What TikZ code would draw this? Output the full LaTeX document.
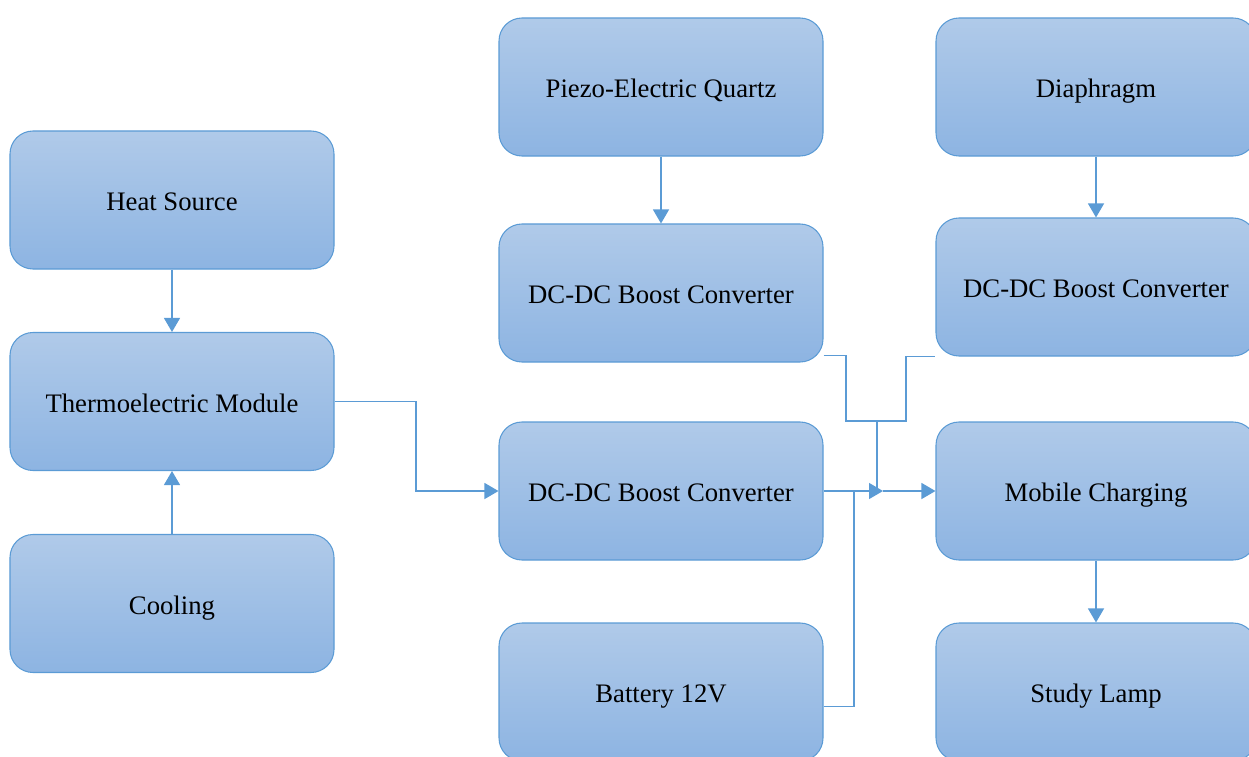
\documentclass[tikz,border=0pt]{standalone}
\usepackage{fontspec}
\setmainfont{Liberation Serif}
\usetikzlibrary{arrows.meta,calc}
\definecolor{boxTop}{HTML}{B0CAE9}
\definecolor{boxBottom}{HTML}{8DB4E2}
\definecolor{boxEdge}{HTML}{5B9BD5}

\begin{document}
\begin{tikzpicture}[x=0.2mm, y=-0.2mm,
  block/.style={rounded corners=4.6mm, draw=boxEdge, line width=0.6pt, top color=boxTop, bottom color=boxBottom, minimum width=64.8mm, minimum height=27.6mm, inner sep=0pt, align=center, text height=4.6mm, text depth=0.4mm, font=\fontsize{15.2}{18}\selectfont},
  narrow/.style={block, minimum width=64mm},
  wire/.style={draw=boxEdge, line width=0.7pt},
  link/.style={wire, -{Triangle[length=2.8mm, width=3.2mm]}},
]
\clip (0,0) rectangle (1249,756);

% left column
\node[block] (heat) at (172,200) {Heat Source};
\node[block] (thermo) at (172,401.5) {Thermoelectric Module};
\node[block] (cooling) at (172,603.5) {Cooling};

% middle column
\node[block] (piezo) at (661,87) {Piezo-Electric Quartz};
\node[block] (boostA) at (661,293) {DC-DC Boost Converter};
\node[block] (boostB) at (661,491) {DC-DC Boost Converter};
\node[block] (battery) at (661,692) {Battery 12V};

% right column
\node[narrow] (diaphragm) at (1096,87) {Diaphragm};
\node[narrow] (boostC) at (1096,287) {DC-DC Boost Converter};
\node[narrow] (mobile) at (1096,491) {Mobile Charging};
\node[narrow] (lamp) at (1096,692) {Study Lamp};

\coordinate (tee) at (877,421);
\coordinate (join) at (883,491);
\coordinate (bus) at (854,491);

\draw[link] (heat.south) -- (thermo.north);
\draw[link] (cooling.north) -- (thermo.south);
\draw[link] (thermo.east) -- (416,401.5) |- (boostB.west);
\draw[link] (piezo.south) -- (boostA.north);
\draw[link] (diaphragm.south) -- (boostC.north);
\draw[link] (mobile.south) -- (lamp.north);

\draw[wire] (boostA.-21) -| (846,421) -- (906,421) |- (boostC.south west);
\draw[wire] (tee) -- (tee |- join);
\draw[wire] (battery.-5) -| (bus);
\draw[link] (boostB.east) -- (join);
\draw[link] (join) -- (mobile.west);
\end{tikzpicture}
\end{document}
